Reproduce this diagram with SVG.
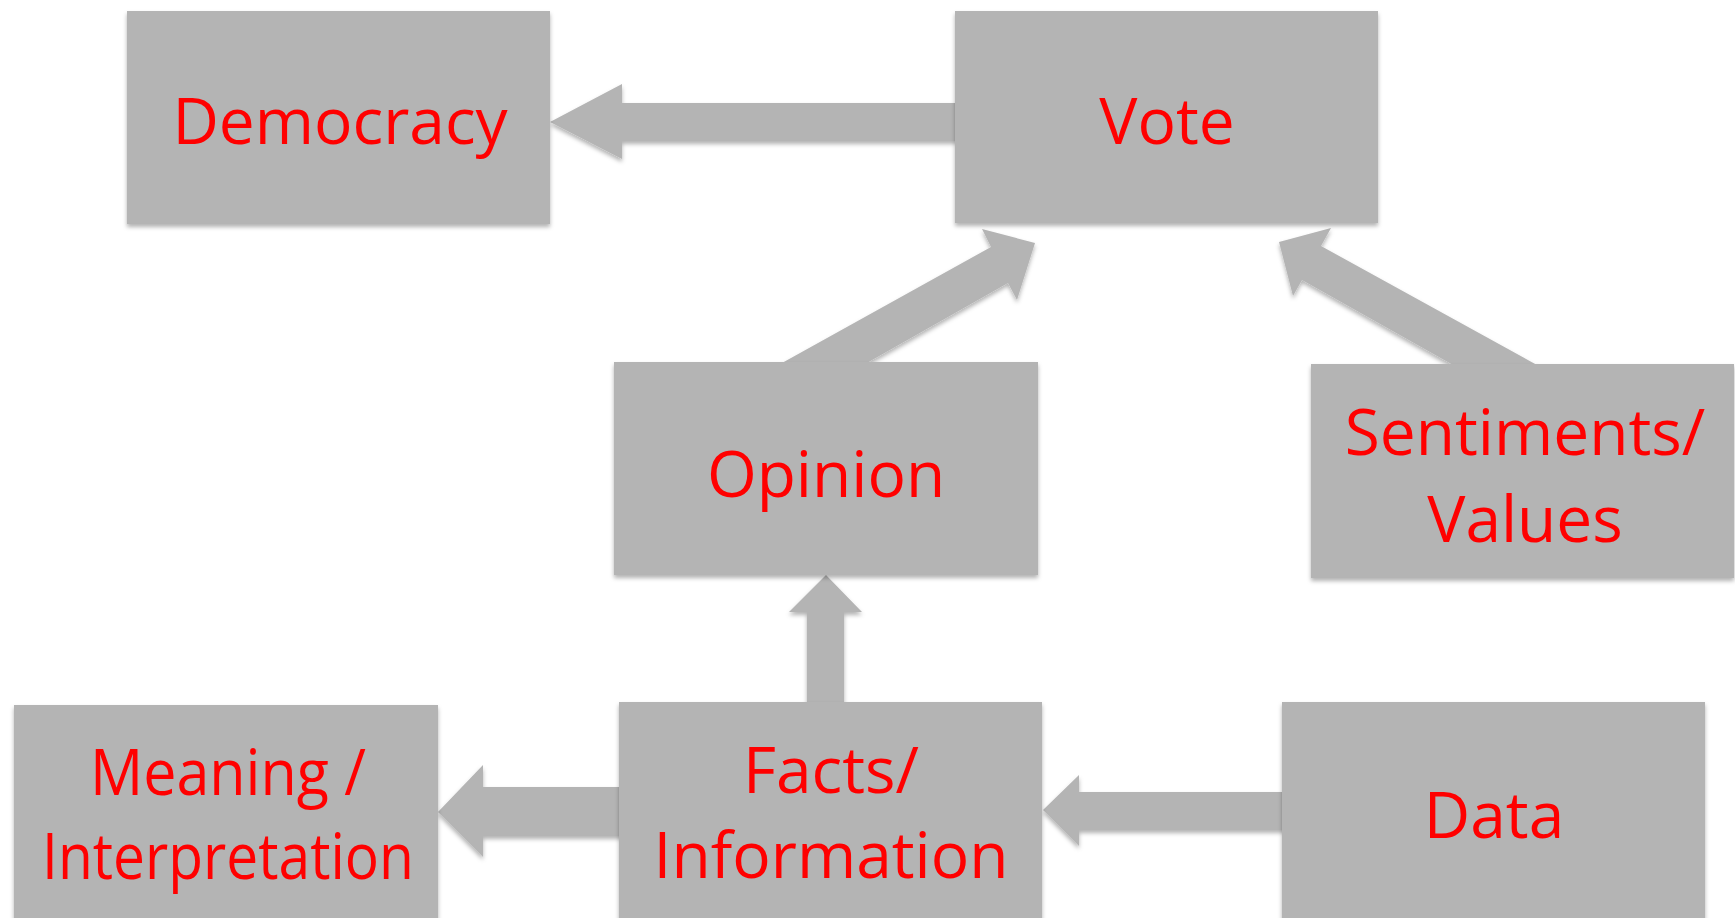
<svg xmlns="http://www.w3.org/2000/svg" width="1735" height="918" viewBox="0 0 1735 918">
  <defs>
    <filter id="sh" x="-10%" y="-10%" width="120%" height="130%">
      <feDropShadow dx="0" dy="3" stdDeviation="2" flood-color="#000" flood-opacity="0.3"/>
    </filter>
  </defs>
  <style>
    .box { fill: #b4b4b4; filter: url(#sh); }
    .arr { fill: #b4b4b4; filter: url(#sh); }
    .lbl { font-family: "Open Sans", "Liberation Sans", sans-serif; font-size: 64px; fill: #ff0000; text-anchor: middle; }
  </style>
  <rect width="1735" height="918" fill="#ffffff"/>
  <g id="connectors">
    <polygon class="arr" points="957,103 622,103 622,84 550,122 622,159 622,141 957,141"/>
    <polygon class="arr" points="773,368 991,247 982,229 1035,243 1017,300 1008,283 858,368"/>
    <polygon class="arr" points="1279,242 1331,228 1321,246 1546,370 1462,370 1302,280 1293,296"/>
    <polygon class="arr" points="826,575 862,612 844,612 844,705 807,705 807,612 789,612"/>
    <polygon class="arr" points="438,812 483,765 483,787 622,787 622,836 483,836 483,857"/>
    <polygon class="arr" points="1043,810 1079,775 1079,792 1285,792 1285,830 1079,830 1079,846"/>
  </g>
  <g id="democracy">
    <rect class="box" x="127" y="11" width="423" height="213"/>
    <text class="lbl" x="340" y="144">Democracy</text>
  </g>
  <g id="vote">
    <rect class="box" x="955" y="11" width="423" height="212"/>
    <text class="lbl" x="1167" y="144">Vote</text>
  </g>
  <g id="opinion">
    <rect class="box" x="614" y="362" width="424" height="213"/>
    <text class="lbl" x="826" y="497">Opinion</text>
  </g>
  <g id="sentiments">
    <rect class="box" x="1311" y="364" width="423" height="214"/>
    <text class="lbl" x="1525" y="455">Sentiments/</text>
    <text class="lbl" x="1525" y="542">Values</text>
  </g>
  <g id="meaning">
    <rect class="box" x="14" y="705" width="424" height="216"/>
    <text class="lbl" x="228" y="795" textLength="276" lengthAdjust="spacingAndGlyphs">Meaning /</text>
    <text class="lbl" x="228" y="879" textLength="372" lengthAdjust="spacingAndGlyphs">Interpretation</text>
  </g>
  <g id="facts">
    <rect class="box" x="619" y="702" width="423" height="219"/>
    <text class="lbl" x="831" y="793">Facts/</text>
    <text class="lbl" x="831" y="878">Information</text>
  </g>
  <g id="data">
    <rect class="box" x="1282" y="702" width="423" height="219"/>
    <text class="lbl" x="1494" y="838">Data</text>
  </g>
</svg>
